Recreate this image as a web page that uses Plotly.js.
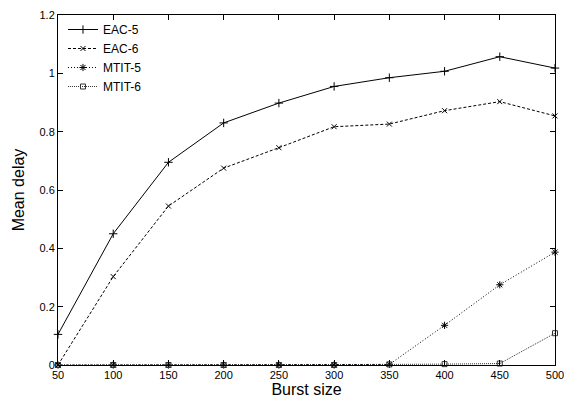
<!DOCTYPE html>
<html><head><meta charset="utf-8">
<script src="https://cdn.plot.ly/plotly-3.0.1.min.js"></script>
<style>body{margin:0;padding:0;background:#fff}#chart{width:564px;height:401px}</style>
</head><body><div id="chart"></div>
<script>
var burstSize = [50, 100, 150, 200, 250, 300, 350, 400, 450, 500];
var eac5  = [0.105, 0.45, 0.695, 0.83, 0.898, 0.955, 0.985, 1.007, 1.057, 1.018];
var eac6  = [0.0, 0.303, 0.545, 0.675, 0.745, 0.817, 0.826, 0.872, 0.903, 0.854];
var mtit5 = [0.0, 0.0, 0.0, 0.0, 0.0, 0.0, 0.002, 0.136, 0.275, 0.387];
var mtit6 = [0.0, 0.0, 0.0, 0.0, 0.0, 0.0, 0.002, 0.003, 0.005, 0.109];
var names = ['EAC-5', 'EAC-6', 'MTIT-5', 'MTIT-6'];

function tr(y, name, dash, sym, size, col) {
  return {x: burstSize, y: y, name: name, type: 'scatter', mode: 'lines+markers', cliponaxis: false,
    line: {color: col, width: 1, dash: dash},
    marker: {symbol: sym, size: size, color: col, line: {color: col, width: 1}}};
}
var data = [
  tr(eac5, names[0], 'solid', 'cross-thin', 6, '#000'),
  tr(eac6, names[1], '3px,2px', 'x-thin', 5, '#000'),
  tr(mtit5, names[2], '1px,2px', 'asterisk', 6, '#000'),
  tr(mtit6, names[3], '1px,1px', 'square-open', 5, '#333')
];
var layout = {
  width: 564, height: 401,
  margin: {l: 58, r: 9, t: 15, b: 36},
  paper_bgcolor: '#fff', plot_bgcolor: '#fff',
  font: {family: 'Liberation Sans, Arial, sans-serif', color: '#000', size: 11},
  showlegend: true,
  legend: {x: 0.01, y: 1.0, xanchor: 'left', yanchor: 'top', bgcolor: 'rgba(0,0,0,0)',
    font: {size: 12}, tracegroupgap: 0, itemwidth: 30},
  xaxis: {range: [50, 500], tickvals: burstSize, ticks: 'inside', ticklen: 5, showline: true, mirror: 'ticks',
    linecolor: '#000', linewidth: 1, tickcolor: '#000', showgrid: false, zeroline: false,
    ticklabeloverflow: 'allow',
    tickfont: {size: 11}, title: {text: 'Burst size', font: {size: 16}, standoff: 2}},
  yaxis: {range: [0, 1.2], dtick: 0.2, ticks: 'inside', ticklen: 5, showline: true, mirror: 'ticks',
    linecolor: '#000', linewidth: 1, tickcolor: '#000', showgrid: false, zeroline: false,
    ticklabeloverflow: 'allow',
    tickfont: {size: 11}, title: {text: 'Mean delay', font: {size: 16}, standoff: 10}}
};
Plotly.newPlot('chart', data, layout, {staticPlot: true});
</script></body></html>
